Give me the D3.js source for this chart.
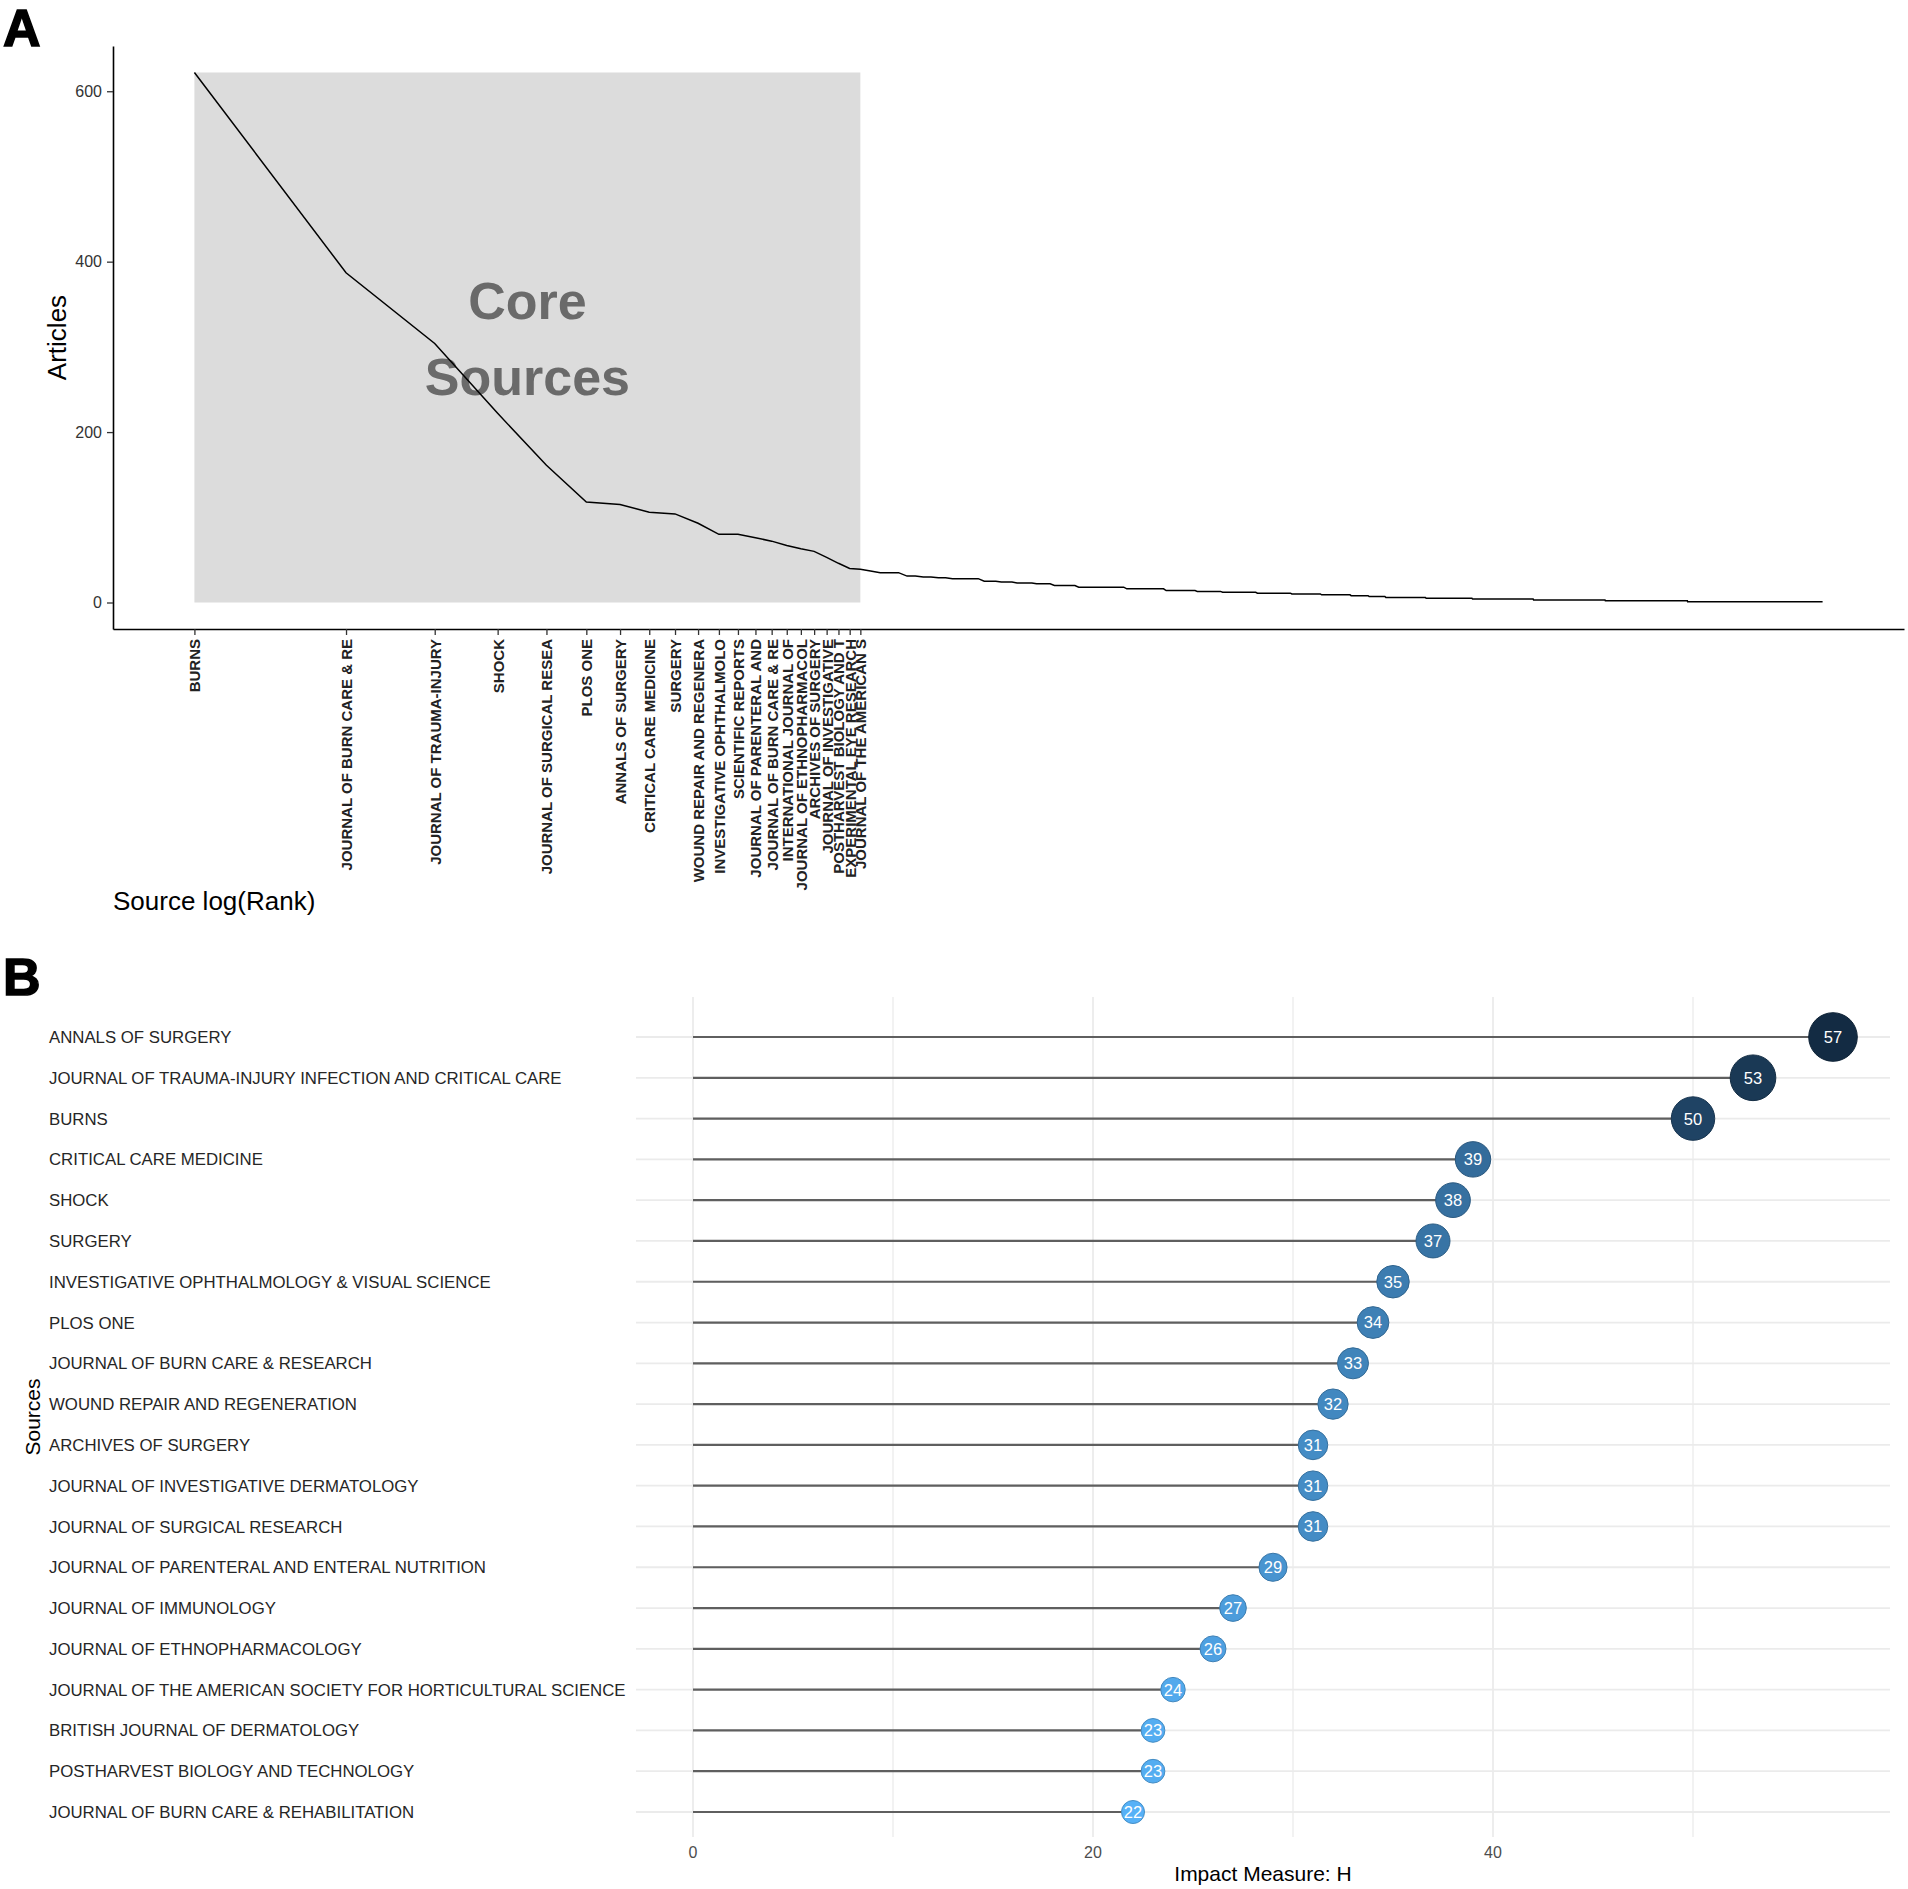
<!DOCTYPE html>
<html>
<head>
<meta charset="utf-8">
<script src="https://cdn.jsdelivr.net/npm/d3@7"></script>
<style>
  body { margin: 0; background: #fff; }
  svg { display: block; font-family: "Liberation Sans", Arial, sans-serif; }
</style>
</head>
<body>
<svg></svg>
<script>
const width = 1908;
const height = 1889;

// Panel A: Bradford's law, core sources (rank 1..21)
const coreSources = [
  "BURNS", "JOURNAL OF BURN CARE & RE", "JOURNAL OF TRAUMA-INJURY", "SHOCK",
  "JOURNAL OF SURGICAL RESEA", "PLOS ONE", "ANNALS OF SURGERY", "CRITICAL CARE MEDICINE",
  "SURGERY", "WOUND REPAIR AND REGENERA", "INVESTIGATIVE OPHTHALMOLO", "SCIENTIFIC REPORTS",
  "JOURNAL OF PARENTERAL AND", "JOURNAL OF BURN CARE & RE", "INTERNATIONAL JOURNAL OF",
  "JOURNAL OF ETHNOPHARMACOL", "ARCHIVES OF SURGERY", "JOURNAL OF INVESTIGATIVE",
  "POSTHARVEST BIOLOGY AND T", "EXPERIMENTAL EYE RESEARCH", "JOURNAL OF THE AMERICAN S"
];
const coreArticles = [622, 387, 304, 222, 161, 118, 115, 106, 104, 93, 80, 80, 76, 72, 67, 63, 60, 53, 46, 40, 39];

// rest of the sources: article count and the last rank that has it
const tailArticles  = [37, 35, 31, 30, 29, 28, 25, 24, 23, 22, 20, 18, 16, 14, 13, 12, 11, 10, 9, 8, 7, 6, 5, 4, 3, 2, 1];
const tailLastRank  = [22, 25, 27, 29, 31, 36, 39, 42, 46, 50, 56, 70, 84, 97, 109, 128, 150, 172, 197, 214, 231, 278, 344, 455, 632, 921, 1709];

const yTicksA = [0, 200, 400, 600];

// Panel B: H index of the sources
const hSources = [
  "ANNALS OF SURGERY",
  "JOURNAL OF TRAUMA-INJURY INFECTION AND CRITICAL CARE",
  "BURNS",
  "CRITICAL CARE MEDICINE",
  "SHOCK",
  "SURGERY",
  "INVESTIGATIVE OPHTHALMOLOGY & VISUAL SCIENCE",
  "PLOS ONE",
  "JOURNAL OF BURN CARE & RESEARCH",
  "WOUND REPAIR AND REGENERATION",
  "ARCHIVES OF SURGERY",
  "JOURNAL OF INVESTIGATIVE DERMATOLOGY",
  "JOURNAL OF SURGICAL RESEARCH",
  "JOURNAL OF PARENTERAL AND ENTERAL NUTRITION",
  "JOURNAL OF IMMUNOLOGY",
  "JOURNAL OF ETHNOPHARMACOLOGY",
  "JOURNAL OF THE AMERICAN SOCIETY FOR HORTICULTURAL SCIENCE",
  "BRITISH JOURNAL OF DERMATOLOGY",
  "POSTHARVEST BIOLOGY AND TECHNOLOGY",
  "JOURNAL OF BURN CARE & REHABILITATION"
];
const hIndex = [57, 53, 50, 39, 38, 37, 35, 34, 33, 32, 31, 31, 31, 29, 27, 26, 24, 23, 23, 22];
const xTicksB = [0, 20, 40];
const xGridB = [0, 10, 20, 30, 40, 50];

const svg = d3.select("svg")
  .attr("width", width)
  .attr("height", height);

// ---------- Panel A ----------
const bradford = coreArticles.map((a, i) => ({ rank: i + 1, articles: a }));
let r = coreArticles.length + 1;
tailArticles.forEach((a, i) => {
  for (; r <= tailLastRank[i]; r++) bradford.push({ rank: r, articles: a });
});

const maxRank = d3.max(bradford, d => d.rank);
const maxArt = d3.max(bradford, d => d.articles);
const lmax = Math.log(maxRank);

const xA = d3.scaleLinear()
  .domain([-0.05 * lmax, 1.05 * lmax])
  .range([113, 1904]);
const yA = d3.scaleLinear()
  .domain([-0.05 * maxArt, 1.05 * maxArt])
  .range([629, 46]);

const gA = svg.append("g");

// core zone
const nCore = coreSources.length;
gA.append("rect")
  .attr("x", xA(0))
  .attr("y", yA(maxArt))
  .attr("width", xA(Math.log(nCore)) - xA(0))
  .attr("height", yA(0) - yA(maxArt))
  .attr("fill", "#dcdcdc");

const coreMid = (xA(0) + xA(Math.log(nCore))) / 2;
gA.append("text")
  .attr("x", coreMid)
  .attr("y", yA(333))
  .attr("text-anchor", "middle")
  .attr("font-size", 52)
  .attr("font-weight", "bold")
  .attr("fill", "#6a6a6a")
  .text("Core");
gA.append("text")
  .attr("x", coreMid)
  .attr("y", yA(243))
  .attr("text-anchor", "middle")
  .attr("font-size", 52)
  .attr("font-weight", "bold")
  .attr("fill", "#6a6a6a")
  .text("Sources");

// curve
const line = d3.line()
  .x(d => xA(Math.log(d.rank)))
  .y(d => yA(d.articles));
gA.append("path")
  .datum(bradford)
  .attr("d", line)
  .attr("fill", "none")
  .attr("stroke", "#000")
  .attr("stroke-width", 1.5);

// y axis
const yAxisA = gA.append("g")
  .attr("transform", `translate(${xA.range()[0]},0)`)
  .call(d3.axisLeft(yA).tickValues(yTicksA).tickSize(6).tickSizeOuter(0).tickPadding(5));
yAxisA.select(".domain").attr("stroke", "#000").attr("stroke-width", 1.6);
yAxisA.selectAll(".tick line").attr("stroke", "#333").attr("stroke-width", 1.3);
yAxisA.selectAll(".tick text")
  .attr("font-size", 16)
  .attr("font-family", "Liberation Sans, Arial, sans-serif")
  .attr("fill", "#333");

// x axis with core source names
const xAxisA = gA.append("g")
  .attr("transform", `translate(0,${yA.range()[0]})`)
  .call(d3.axisBottom(xA)
    .tickValues(coreSources.map((s, i) => Math.log(i + 1)))
    .tickFormat((d, i) => coreSources[i])
    .tickSize(6)
    .tickSizeOuter(0));
xAxisA.select(".domain").attr("stroke", "#000").attr("stroke-width", 1.6);
xAxisA.selectAll(".tick line").attr("stroke", "#333").attr("stroke-width", 1.3);
xAxisA.selectAll(".tick text")
  .attr("transform", "rotate(-90)")
  .attr("x", -10)
  .attr("y", 0)
  .attr("dy", "0.36em")
  .style("text-anchor", "end")
  .attr("font-size", 15)
  .attr("font-weight", "bold")
  .attr("font-family", "Liberation Sans, Arial, sans-serif")
  .attr("fill", "#222");

// titles
gA.append("text")
  .attr("transform", `translate(57,${(yA.range()[0] + yA.range()[1]) / 2}) rotate(-90)`)
  .attr("text-anchor", "middle")
  .attr("dy", "0.35em")
  .attr("font-size", 26)
  .text("Articles");
gA.append("text")
  .attr("x", xA.range()[0])
  .attr("y", 910)
  .attr("font-size", 26)
  .text("Source log(Rank)");

svg.append("text")
  .attr("x", 3)
  .attr("y", 46)
  .attr("font-size", 52)
  .attr("font-weight", "bold")
  .attr("stroke", "#000")
  .attr("stroke-width", 1.5)
  .text("A");

// ---------- Panel B ----------
const maxH = d3.max(hIndex);
const minH = d3.min(hIndex);

const xB = d3.scaleLinear()
  .domain([-0.05 * maxH, 1.05 * maxH])
  .range([636, 1890]);
const yB = d3.scalePoint()
  .domain(hSources)
  .range([1037, 1812]);
const panelTop = 997, panelBottom = 1837;

const radius = d3.scaleLinear().domain([minH, maxH]).range([11.5, 24.3]);
const colorB = t => d3.interpolateLab("#56B1F7", "#132B43")(t);
const fillB = v => colorB((v - minH) / (maxH - minH));

const gB = svg.append("g");

// grid
gB.append("g")
  .selectAll("line")
  .data(xGridB)
  .join("line")
  .attr("x1", d => xB(d))
  .attr("x2", d => xB(d))
  .attr("y1", panelTop)
  .attr("y2", panelBottom)
  .attr("stroke", "#ebebeb")
  .attr("stroke-width", d => d % 20 === 0 ? 1.8 : 1.3);

gB.append("g")
  .selectAll("line")
  .data(hSources)
  .join("line")
  .attr("x1", xB.range()[0])
  .attr("x2", xB.range()[1])
  .attr("y1", d => yB(d))
  .attr("y2", d => yB(d))
  .attr("stroke", "#ebebeb")
  .attr("stroke-width", 1.8);

const rows = hSources.map((s, i) => ({ source: s, h: hIndex[i] }));

// lollipop sticks
gB.append("g")
  .selectAll("line")
  .data(rows)
  .join("line")
  .attr("x1", xB(0))
  .attr("x2", d => xB(d.h))
  .attr("y1", d => yB(d.source))
  .attr("y2", d => yB(d.source))
  .attr("stroke", "#5f5f5f")
  .attr("stroke-width", 2.2);

// dots
const dots = gB.append("g")
  .selectAll("g")
  .data(rows)
  .join("g")
  .attr("transform", d => `translate(${xB(d.h)},${yB(d.source)})`);

dots.append("circle")
  .attr("r", d => radius(d.h))
  .attr("fill", d => fillB(d.h))
  .attr("stroke", d => d3.color(fillB(d.h)).darker(0.6))
  .attr("stroke-width", 1);

dots.append("text")
  .attr("text-anchor", "middle")
  .attr("dy", "0.36em")
  .attr("font-size", 16.5)
  .attr("fill", "#fff")
  .text(d => d.h);

// source names, left aligned
gB.append("g")
  .selectAll("text")
  .data(hSources)
  .join("text")
  .attr("x", 49)
  .attr("y", d => yB(d))
  .attr("dy", "0.36em")
  .attr("font-size", 16.8)
  .attr("fill", "#262626")
  .text(d => d);

// x tick labels
gB.append("g")
  .selectAll("text")
  .data(xTicksB)
  .join("text")
  .attr("x", d => xB(d))
  .attr("y", 1858)
  .attr("text-anchor", "middle")
  .attr("font-size", 16)
  .attr("fill", "#4d4d4d")
  .text(d => d);

gB.append("text")
  .attr("x", (xB.range()[0] + xB.range()[1]) / 2)
  .attr("y", 1881)
  .attr("text-anchor", "middle")
  .attr("font-size", 21)
  .text("Impact Measure: H");

gB.append("text")
  .attr("transform", `translate(33,${(panelTop + panelBottom) / 2}) rotate(-90)`)
  .attr("text-anchor", "middle")
  .attr("dy", "0.35em")
  .attr("font-size", 21)
  .text("Sources");

svg.append("text")
  .attr("x", 3)
  .attr("y", 995)
  .attr("font-size", 52)
  .attr("font-weight", "bold")
  .attr("stroke", "#000")
  .attr("stroke-width", 1.5)
  .text("B");
</script>
</body>
</html>
